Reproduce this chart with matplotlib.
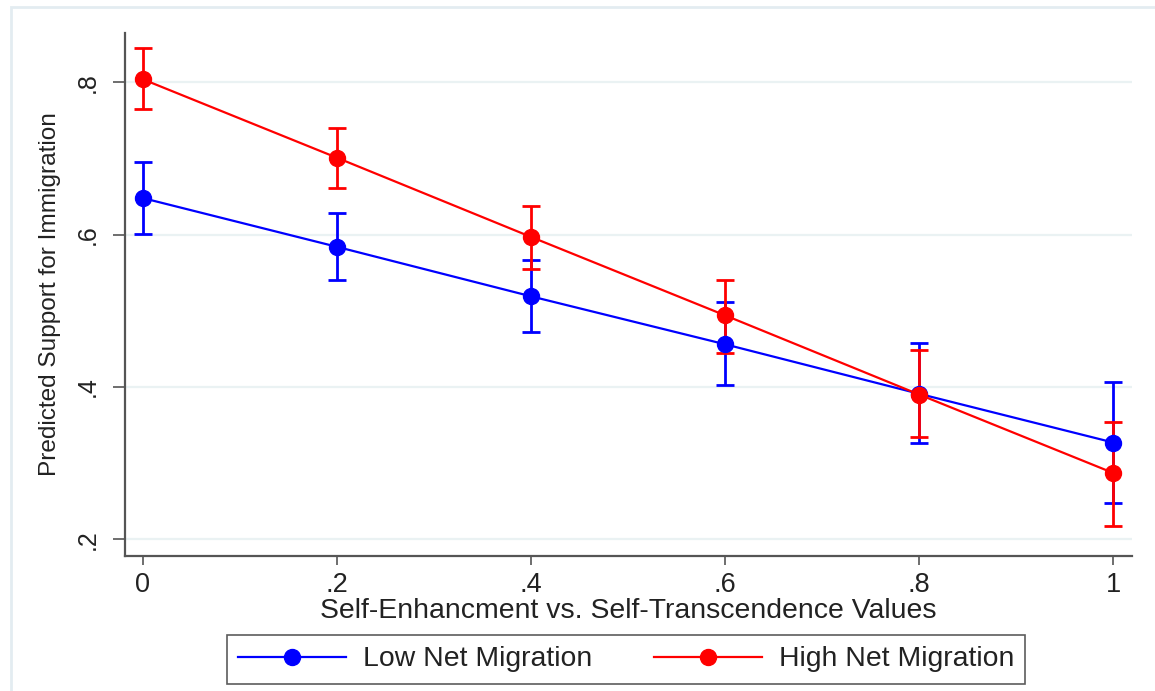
import matplotlib
matplotlib.use("Agg")
import matplotlib.pyplot as plt
from matplotlib.patches import Rectangle

plt.rcParams["font.family"] = ["Liberation Sans", "DejaVu Sans"]

# Predictive margins by value orientation
x_values = [0.0, 0.2, 0.4, 0.6, 0.8, 1.0]

low_mean = [0.648, 0.584, 0.519, 0.456, 0.391, 0.327]
low_lo = [0.601, 0.540, 0.472, 0.402, 0.326, 0.248]
low_hi = [0.695, 0.628, 0.567, 0.511, 0.458, 0.407]

high_mean = [0.804, 0.701, 0.597, 0.494, 0.390, 0.287]
high_lo = [0.765, 0.661, 0.555, 0.445, 0.334, 0.217]
high_hi = [0.845, 0.740, 0.638, 0.541, 0.448, 0.354]

x_ticks = [0.0, 0.2, 0.4, 0.6, 0.8, 1.0]
x_ticklabels = ["0", ".2", ".4", ".6", ".8", "1"]
y_ticks = [0.2, 0.4, 0.6, 0.8]
y_ticklabels = [".2", ".4", ".6", ".8"]

series_labels = ["Low Net Migration", "High Net Migration"]

W, H = 1155, 691
fig = plt.figure(figsize=(W / 100, H / 100), dpi=100)
fig.patch.set_facecolor("white")

# outer graph-region border
fig.patches.append(Rectangle((11 / W, -0.05), 1.2, 1 - 7 / H + 0.05,
                             transform=fig.transFigure, fill=False,
                             edgecolor="#E3ECF1", linewidth=2))

ax = fig.add_axes([125 / W, 1 - 556 / H, (1132 - 125) / W, (556 - 33) / H])

def draw(mean, lo, hi, color, label):
    yerr = [[m - l for m, l in zip(mean, lo)], [h - m for m, h in zip(mean, hi)]]
    ax.errorbar(x_values, mean, yerr=yerr, fmt="none", ecolor=color,
                elinewidth=2.0, capsize=6.5, capthick=2.0, zorder=3)
    ax.plot(x_values, mean, color=color, linewidth=1.6, marker="o",
            markersize=11.5, label=label, zorder=4)

draw(low_mean, low_lo, low_hi, "#0000FF", series_labels[0])
draw(high_mean, high_lo, high_hi, "#FF0000", series_labels[1])

ax.set_xlim(-0.0182, 1.0193)
ax.set_ylim(0.178, 0.8647)

ax.set_xticks(x_ticks)
ax.set_xticklabels(x_ticklabels)
ax.set_yticks(y_ticks)
ax.set_yticklabels(y_ticklabels, rotation=90, va="center")

for y in y_ticks:
    ax.axhline(y, color="#EAF2F3", linewidth=1.6, zorder=1)

for side in ("top", "right"):
    ax.spines[side].set_visible(False)
for side in ("left", "bottom"):
    ax.spines[side].set_color("#555555")
    ax.spines[side].set_linewidth(1.6)

ax.tick_params(axis="y", direction="out", length=8.5, width=1.2,
               color="#555555", labelsize=18, pad=10, labelcolor="#222222")
ax.tick_params(axis="x", direction="out", length=6.5, width=1.2,
               color="#555555", labelsize=19.5, pad=5, labelcolor="#222222")

ax.set_xlabel("Self-Enhancment vs. Self-Transcendence Values", fontsize=20.4,
              color="#222222", labelpad=0)
ax.set_ylabel("Predicted Support for Immigration", fontsize=17.6,
              color="#222222", labelpad=10)

leg = ax.legend(loc="center", bbox_to_anchor=(626 / W, 1 - 659.5 / H),
                bbox_transform=fig.transFigure, ncol=2, fontsize=20.4,
                frameon=True, fancybox=False, handlelength=3.8,
                columnspacing=2.2, handletextpad=0.6, borderpad=0.4,
                borderaxespad=0, markerscale=1.0)
leg.get_frame().set_edgecolor("#333333")
leg.get_frame().set_linewidth(1.2)
for t in leg.get_texts():
    t.set_color("#222222")

fig.savefig("out.png", dpi=100, facecolor="white")
